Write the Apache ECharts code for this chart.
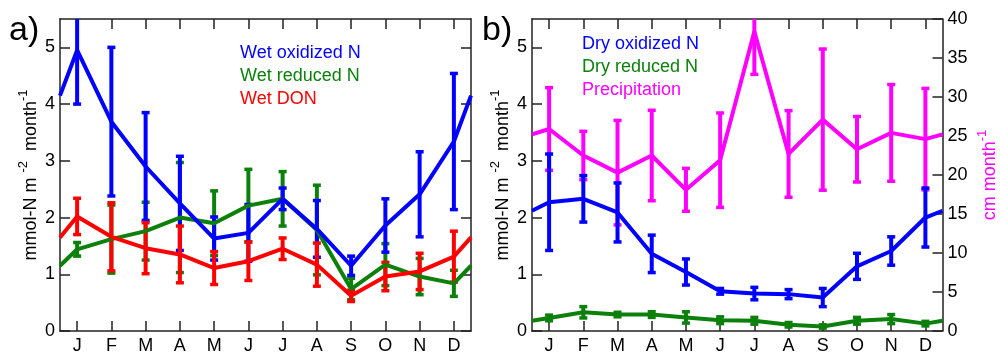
<!DOCTYPE html>
<html>
<head>
<meta charset="utf-8">
<script src="https://cdn.jsdelivr.net/npm/echarts@6/dist/echarts.min.js"></script>
<style>
  html, body { margin: 0; padding: 0; background: #fff; }
  #main { width: 1000px; height: 355px; }
</style>
</head>
<body>
<div id="main"></div>
<script>
// 月份标签
var months = ['J', 'F', 'M', 'A', 'M', 'J', 'J', 'A', 'S', 'O', 'N', 'D'];
var monthPos = [1, 2, 3, 4, 5, 6, 7, 8, 9, 10, 11, 12];
var yTicks = [0, 1, 2, 3, 4, 5];
var precipTicks = [0, 5, 10, 15, 20, 25, 30, 35, 40];

// a) 湿沉降
var wetOx = [4.95, 3.69, 2.90, 2.25, 1.63, 1.73, 2.33, 1.80, 1.15, 1.86, 2.41, 3.34];
var wetOxErr = [0.95, 1.31, 0.95, 0.83, 0.38, 0.50, 0.19, 0.50, 0.17, 0.47, 0.75, 1.20];
var wetRed = [1.44, 1.62, 1.76, 2.00, 1.90, 2.21, 2.33, 1.78, 0.74, 1.17, 0.96, 0.84];
var wetRedErr = [0.12, 0.60, 0.51, 0.97, 0.57, 0.64, 0.48, 0.79, 0.19, 0.37, 0.32, 0.23];
var wetDon = [2.02, 1.66, 1.46, 1.35, 1.11, 1.23, 1.45, 1.17, 0.62, 0.96, 1.05, 1.31];
var wetDonErr = [0.32, 0.60, 0.45, 0.50, 0.29, 0.34, 0.19, 0.38, 0.10, 0.25, 0.32, 0.45];

// b) 干沉降 + 降水
var dryOx = [2.27, 2.33, 2.09, 1.36, 1.04, 0.70, 0.66, 0.65, 0.59, 1.14, 1.41, 2.00];
var dryOxErr = [0.85, 0.41, 0.52, 0.33, 0.23, 0.05, 0.11, 0.08, 0.16, 0.23, 0.25, 0.52];
var dryRed = [0.23, 0.33, 0.29, 0.29, 0.24, 0.19, 0.18, 0.11, 0.08, 0.18, 0.21, 0.13];
var dryRedErr = [0.05, 0.10, 0.04, 0.05, 0.10, 0.06, 0.06, 0.04, 0.03, 0.06, 0.08, 0.04];
var precip = [25.9, 22.5, 20.3, 22.5, 18.1, 21.9, 38.4, 22.7, 27.1, 23.3, 25.4, 24.6];
var precipErr = [5.3, 3.1, 6.7, 5.8, 2.75, 6.05, 5.5, 5.55, 9.05, 4.2, 6.2, 6.5];

// 图边缘处的值: wetOx, wetRed, wetDon, dryOx, dryRed, precip
var edgeVals = [4.15, 1.15, 1.65, 2.12, 0.18, 25.2];

var BLUE = '#0000ff', GREEN = '#0b800b', RED = '#ff0000', MAG = '#ff00ff';
var FONT = 'Liberation Sans, Arial, Helvetica, sans-serif';

var myChart = echarts.init(document.getElementById('main'));

function lineData(vals, edge) {
  var d = [[0.5, edge]];
  vals.forEach(function (v, i) { d.push([monthPos[i], v]); });
  d.push([12.5, edge]);
  return d;
}

function errData(vals, errs) {
  return vals.map(function (v, i) { return [monthPos[i], v - errs[i], v + errs[i]]; });
}

// 误差棒
function renderErr(params, api) {
  var x = api.value(0);
  var lo = api.coord([x, api.value(1)]);
  var hi = api.coord([x, api.value(2)]);
  var c = api.visual('color');
  var w = 4;
  return {
    type: 'group',
    children: [
      { type: 'line', shape: { x1: lo[0], y1: lo[1], x2: hi[0], y2: hi[1] }, style: { stroke: c, lineWidth: 4 } },
      { type: 'line', shape: { x1: lo[0] - w, y1: lo[1], x2: lo[0] + w, y2: lo[1] }, style: { stroke: c, lineWidth: 3.5 } },
      { type: 'line', shape: { x1: hi[0] - w, y1: hi[1], x2: hi[0] + w, y2: hi[1] }, style: { stroke: c, lineWidth: 3.5 } }
    ]
  };
}

function lineSeries(name, vals, edge, color, xi, yi) {
  return {
    name: name, type: 'line', xAxisIndex: xi, yAxisIndex: yi,
    data: lineData(vals, edge), showSymbol: false, symbol: 'none',
    lineStyle: { color: color, width: 4 }, itemStyle: { color: color },
    animation: false
  };
}

function errSeries(vals, errs, color, xi, yi) {
  return {
    type: 'custom', xAxisIndex: xi, yAxisIndex: yi, clip: true,
    data: errData(vals, errs), renderItem: renderErr,
    itemStyle: { color: color }, encode: { x: 0, y: [1, 2] },
    animation: false
  };
}

var axisLine = { show: true, onZero: false, lineStyle: { color: '#222', width: 1.5 } };
var tickStyle = { color: '#222', width: 1.5 };

function xAx(gi, pos, labels) {
  return {
    gridIndex: gi, type: 'value', position: pos, min: 0.5, max: 12.5,
    axisLine: axisLine, splitLine: { show: false },
    axisTick: { show: true, inside: true, length: 10, lineStyle: tickStyle, customValues: monthPos },
    axisLabel: {
      show: labels, customValues: monthPos, margin: 6, fontSize: 18, color: '#000', fontFamily: FONT,
      formatter: function (v) { return months[Math.round(v) - 1]; }
    }
  };
}

function yAx(gi, pos, max, ticks, labels, name, nameColor, gap) {
  return {
    gridIndex: gi, type: 'value', position: pos, min: 0, max: max,
    axisLine: axisLine, splitLine: { show: false },
    axisTick: { show: true, inside: true, length: 10, lineStyle: tickStyle, customValues: ticks },
    axisLabel: { show: labels, customValues: ticks, margin: 5, fontSize: 18, color: '#000', fontFamily: FONT },
    name: name, nameLocation: 'middle', nameGap: gap, nameRotate: 90,
    nameTextStyle: {
      fontSize: 18, color: nameColor, fontFamily: FONT,
      rich: { s: { fontSize: 13, color: nameColor, fontFamily: FONT, padding: [0, 0, 16, 0] } }
    }
  };
}

var option = {
  animation: false,
  grid: [
    { left: 60, top: 19, width: 411, height: 314 },
    { left: 532, top: 19, width: 411, height: 314 }
  ],
  xAxis: [xAx(0, 'bottom', true), xAx(0, 'top', false), xAx(1, 'bottom', true), xAx(1, 'top', false)],
  yAxis: [
    yAx(0, 'left', 5.5, yTicks, true, 'mmol-N m {s|-2}  month{s|-1}', '#000', 14),
    yAx(0, 'right', 5.5, yTicks, false, '', '#000', 10),
    yAx(1, 'left', 5.5, yTicks, true, 'mmol-N m {s|-2}  month{s|-1}', '#000', 14),
    yAx(1, 'right', 40, precipTicks, true, 'cm month{s|-1}', MAG, 33)
  ],
  series: [
    lineSeries('Wet reduced N', wetRed, edgeVals[1], GREEN, 0, 0),
    errSeries(wetRed, wetRedErr, GREEN, 0, 0),
    lineSeries('Wet oxidized N', wetOx, edgeVals[0], BLUE, 0, 0),
    errSeries(wetOx, wetOxErr, BLUE, 0, 0),
    lineSeries('Wet DON', wetDon, edgeVals[2], RED, 0, 0),
    errSeries(wetDon, wetDonErr, RED, 0, 0),

    lineSeries('Precipitation', precip, edgeVals[5], MAG, 2, 3),
    errSeries(precip, precipErr, MAG, 2, 3),
    lineSeries('Dry reduced N', dryRed, edgeVals[4], GREEN, 2, 2),
    errSeries(dryRed, dryRedErr, GREEN, 2, 2),
    lineSeries('Dry oxidized N', dryOx, edgeVals[3], BLUE, 2, 2),
    errSeries(dryOx, dryOxErr, BLUE, 2, 2)
  ],
  graphic: [
    { type: 'text', left: 9, top: 14, style: { text: 'a)', fontSize: 34, fill: '#000', fontFamily: FONT } },
    { type: 'text', left: 482, top: 14, style: { text: 'b)', fontSize: 34, fill: '#000', fontFamily: FONT } },
    { type: 'text', left: 240, top: 44, style: { text: 'Wet oxidized N', fontSize: 18, fill: BLUE, fontFamily: FONT } },
    { type: 'text', left: 240, top: 67, style: { text: 'Wet reduced N', fontSize: 18, fill: GREEN, fontFamily: FONT } },
    { type: 'text', left: 240, top: 90, style: { text: 'Wet DON', fontSize: 18, fill: RED, fontFamily: FONT } },
    { type: 'text', left: 582, top: 35, style: { text: 'Dry oxidized N', fontSize: 18, fill: BLUE, fontFamily: FONT } },
    { type: 'text', left: 582, top: 58, style: { text: 'Dry reduced N', fontSize: 18, fill: GREEN, fontFamily: FONT } },
    { type: 'text', left: 582, top: 81, style: { text: 'Precipitation', fontSize: 18, fill: MAG, fontFamily: FONT } }
  ]
};

myChart.setOption(option);
</script>
</body>
</html>
